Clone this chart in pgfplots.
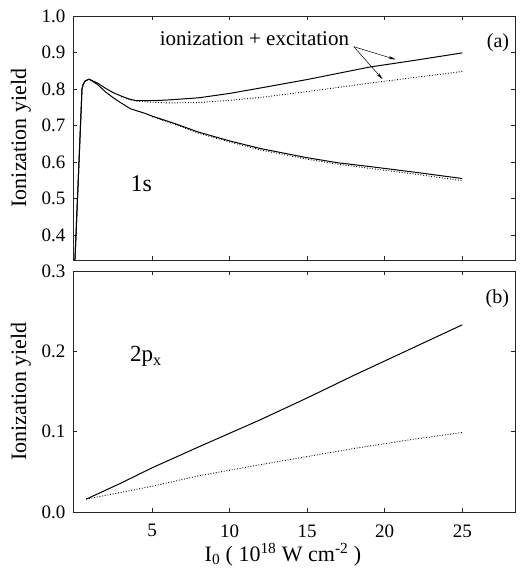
\documentclass[border=0pt]{standalone}
\usepackage{pgfplots}
\pgfplotsset{compat=1.18}
\usepackage{fontspec}
\setmainfont{Liberation Serif}
\usetikzlibrary{arrows.meta}
\begin{document}
\begin{tikzpicture}
\pgfplotsset{
 every axis/.append style={
  scale only axis, width=442pt, xmin=-0.1, xmax=28.4,
  axis line style={line width=0.6pt, black!85},
  tick style={line width=0.5pt, black!85},
  major tick length=4pt,
  tick align=inside,
  xtick={5,10,15,20,25},
  ticklabel style={font=\fontsize{19}{22}\selectfont},
  /pgf/number format/assume math mode=true,
  label style={font=\fontsize{22}{24}\selectfont},
  yticklabel style={xshift=-4pt, /pgf/number format/fixed, /pgf/number format/fixed zerofill, /pgf/number format/precision=1},
  ylabel={Ionization yield},
  ylabel style={at={(axis description cs:-0.118,0.5)}, anchor=center},
 },
}
\path[use as bounding box] (-73pt,-60pt) rectangle (446pt,512pt);

% top panel (a)
\begin{axis}[at={(0pt,252pt)}, anchor=south west, height=244pt,
  ymin=0.332, ymax=1.0, ytick={0.4,0.5,0.6,0.7,0.8,0.9,1.0}, xticklabels={}]
\addplot[black, line width=1pt] coordinates {
(0.0,0.30)(0.03,0.336)(0.48,0.80)(0.55,0.812)(0.68,0.822)(0.94,0.827)(1.5,0.816)(2.0,0.802)(2.5,0.790)(3.0,0.781)(3.5,0.773)(4.0,0.768)(5.0,0.768)(6.0,0.770)(8.0,0.776)(10.0,0.788)(12.0,0.803)(15.0,0.826)(19.0,0.860)(22.0,0.879)(25.0,0.899)};
\addplot[black, line width=1pt] coordinates {
(0.0,0.30)(0.03,0.336)(0.48,0.80)(0.55,0.812)(0.68,0.822)(0.94,0.827)(1.5,0.812)(2.0,0.792)(2.5,0.776)(3.0,0.762)(3.6,0.746)(4.5,0.734)(5.0,0.726)(6.5,0.705)(8.0,0.682)(10.0,0.658)(12.0,0.637)(15.0,0.612)(17.0,0.598)(19.0,0.588)(22.0,0.572)(25.0,0.555)};
\addplot[black, line width=0.9pt, dash pattern=on 0.9pt off 1.8pt] coordinates {
(3.0,0.779)(3.5,0.771)(4.0,0.767)(5.0,0.764)(6.0,0.762)(8.0,0.763)(10.0,0.769)(12.0,0.777)(15.0,0.793)(19.0,0.816)(22.0,0.832)(25.0,0.848)};
\addplot[black, line width=0.9pt, dash pattern=on 0.9pt off 1.8pt] coordinates {
(5.0,0.724)(6.5,0.703)(8.0,0.679)(10.0,0.655)(12.0,0.633)(15.0,0.608)(17.0,0.594)(19.0,0.583)(22.0,0.567)(25.0,0.549)};
\node[font=\fontsize{21}{24}\selectfont] at (axis cs:11.6,0.937) {ionization + excitation};
\draw[-{Stealth[length=7pt,width=3pt]}, line width=0.5pt] (axis cs:18.0,0.916) -- (axis cs:20.7,0.881);
\draw[-{Stealth[length=7pt,width=3pt]}, line width=0.5pt] (axis cs:18.0,0.916) -- (axis cs:19.86,0.827);
\node[font=\fontsize{20}{24}\selectfont] at (axis cs:27.3,0.926) {(a)};
\node[font=\fontsize{24}{26}\selectfont] at (axis cs:4.3,0.542) {1s};
\end{axis}

% bottom panel (b)
\begin{axis}[at={(0pt,0pt)}, anchor=south west, height=241pt,
  ymin=0, ymax=0.3, ytick={0,0.1,0.2,0.3},
  xticklabel style={yshift=-9pt},
  xlabel={I\textsubscript{0} ( 10\textsuperscript{18} W cm\textsuperscript{-2} )},
  xlabel style={at={(axis description cs:0.475,-0.178)}, anchor=center}]
\addplot[black, line width=1pt] coordinates {
(0.75,0.016)(3.0,0.036)(5.0,0.055)(8.0,0.081)(10.0,0.098)(12.0,0.115)(15.0,0.142)(18.0,0.170)(20.0,0.188)(22.0,0.206)(25.0,0.233)};
\addplot[black, line width=0.9pt, dash pattern=on 0.9pt off 1.8pt] coordinates {
(0.75,0.016)(5.0,0.032)(8.0,0.045)(10.0,0.052)(12.0,0.059)(15.0,0.069)(18.0,0.079)(20.0,0.085)(22.0,0.091)(25.0,0.099)};
\node[font=\fontsize{20}{24}\selectfont] at (axis cs:27.26,0.265) {(b)};
\node[font=\fontsize{23}{26}\selectfont] at (axis cs:4.6,0.194) {2p\textsubscript{x}};
\end{axis}
\end{tikzpicture}
\end{document}
